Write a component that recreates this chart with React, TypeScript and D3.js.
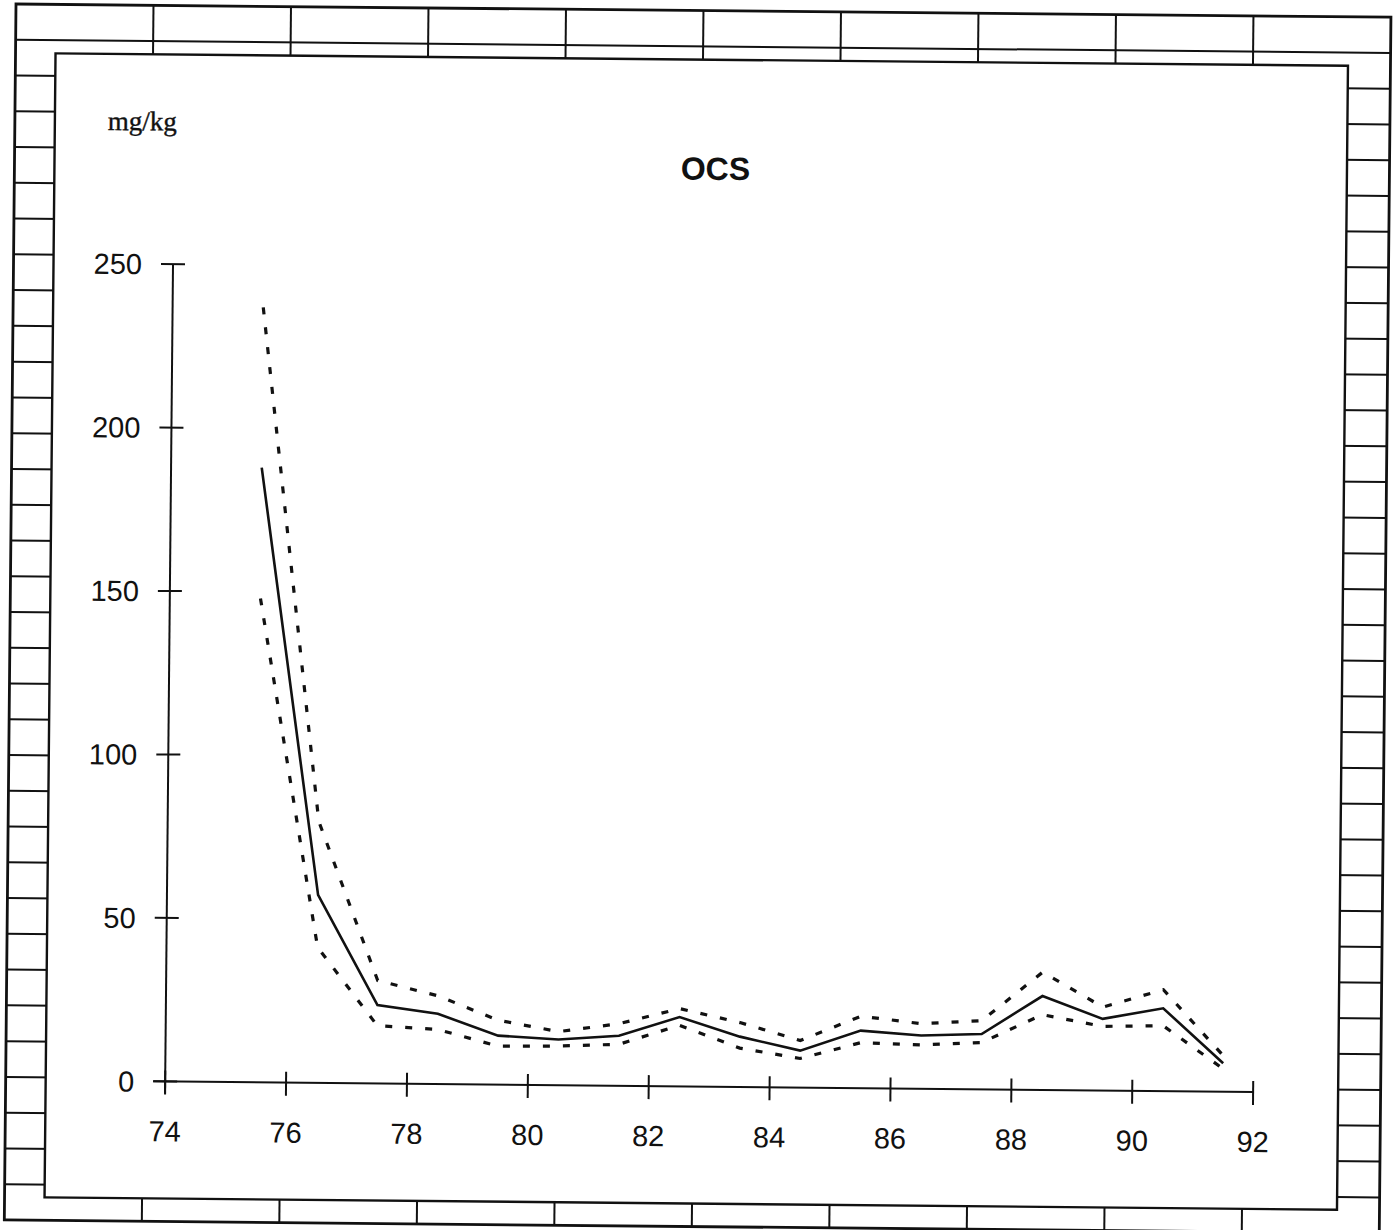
import React from "react";
import * as d3 from "d3";

// ---- data ----
const years = [75.5, 76.5, 77.5, 78.5, 79.5, 80.5, 81.5, 82.5, 83.5, 84.5, 85.5, 86.5, 87.5, 88.5, 89.5, 90.5, 91.5];
const meanValues = [188, 57.5, 24, 21.5, 15, 14, 15.3, 21.2, 15.4, 11.3, 17.6, 16.3, 16.9, 28.7, 21.9, 25.3, 8.7];
const upperValues = [237, 80, 31.5, 27, 19.7, 16.4, 19, 23.8, 19.7, 14.4, 22, 19.9, 21, 36, 25.5, 31, 11];
const lowerValues = [148, 41.5, 17.7, 16.7, 11.8, 12, 12.7, 18.7, 11.9, 8.9, 13.9, 13.4, 14.3, 23, 19.6, 20, 7];
const xTicks = [74, 76, 78, 80, 82, 84, 86, 88, 90, 92];
const yTicks = [0, 50, 100, 150, 200, 250];
const title = "OCS";
const unitLabel = "mg/kg";

const W = 1396;
const H = 1230;

export default function App() {
  const x = d3.scaleLinear().domain([74, 92]).range([175.5, 1263.5]);
  const y = d3.scaleLinear().domain([0, 250]).range([1080, 262.5]);

  const line = d3
    .line<number>()
    .x((_, i) => x(years[i]))
    .y((d) => y(d));

  // frame grid
  const gx0 = 16, gy0 = 4, gw = 1375, gh = 1216;
  const cols = 10, rows = 34;
  const colW = gw / cols;
  const rowH = gh / rows;
  const hLines = d3.range(1, rows).map((i) => gy0 + i * rowH);
  const vLines = d3.range(1, cols).map((i) => gx0 + i * colW);

  const x0 = x(74);
  const yBase = y(0);
  const ink = "#111";
  const tickFont = "'Liberation Sans', Arial, sans-serif";

  return (
    <div style={{ position: "absolute", left: 0, top: 0 }}>
      <svg width={W} height={H} style={{ display: "block", background: "#fff" }}>
        <rect x={0} y={0} width={W} height={H} fill="#fff" />
        <g transform="rotate(0.55, 16, 4)">
          {/* outer grid frame */}
          <g stroke={ink} strokeWidth={2} fill="none">
            {hLines.map((yy, i) => (
              <line key={"h" + i} x1={gx0} x2={gx0 + gw} y1={yy} y2={yy} />
            ))}
            {vLines.map((xx, i) => (
              <line key={"v" + i} x1={xx} x2={xx} y1={gy0} y2={gy0 + gh} />
            ))}
            <rect x={gx0} y={gy0} width={gw} height={gh} strokeWidth={2.8} />
          </g>
          {/* inner paper */}
          <rect x={56} y={53} width={1292.5} height={1144} fill="#fff" stroke={ink} strokeWidth={2.4} />

          {/* unit and title */}
          <text x={109} y={129} fontFamily="'Liberation Serif', 'Times New Roman', serif" fontSize={27} fill={ink} stroke={ink} strokeWidth={0.4}>
            {unitLabel}
          </text>
          <text x={717} y={173} textAnchor="middle" fontFamily="'Liberation Sans', Arial, sans-serif" fontWeight="bold" fontSize={32} fill={ink}>
            {title}
          </text>

          {/* y axis */}
          <line x1={x0} x2={x0} y1={y(250)} y2={yBase + 12} stroke={ink} strokeWidth={2} />
          {yTicks.map((t) => (
            <g key={"yt" + t}>
              <line x1={x0 - 12} x2={x0 + 12} y1={y(t)} y2={y(t)} stroke={ink} strokeWidth={2} />
              <text x={x0 - 31} y={y(t)} dy="0.36em" textAnchor="end" fontFamily={tickFont} fontSize={29} fill={ink}>
                {t}
              </text>
            </g>
          ))}

          {/* x axis */}
          <line x1={x0 - 12} x2={x(92)} y1={yBase} y2={yBase} stroke={ink} strokeWidth={2} />
          {xTicks.map((t) => (
            <g key={"xt" + t}>
              <line x1={x(t)} x2={x(t)} y1={yBase - 11} y2={yBase + 13} stroke={ink} strokeWidth={2} />
              <text x={x(t)} y={yBase + 60} textAnchor="middle" fontFamily={tickFont} fontSize={29} fill={ink}>
                {t}
              </text>
            </g>
          ))}

          {/* data lines */}
          <path d={line(upperValues) || ""} fill="none" stroke={ink} strokeWidth={3.2} strokeDasharray="7 13" />
          <path d={line(lowerValues) || ""} fill="none" stroke={ink} strokeWidth={3.2} strokeDasharray="7 13" />
          <path d={line(meanValues) || ""} fill="none" stroke={ink} strokeWidth={2.6} strokeLinejoin="miter" />
        </g>
      </svg>
    </div>
  );
}
